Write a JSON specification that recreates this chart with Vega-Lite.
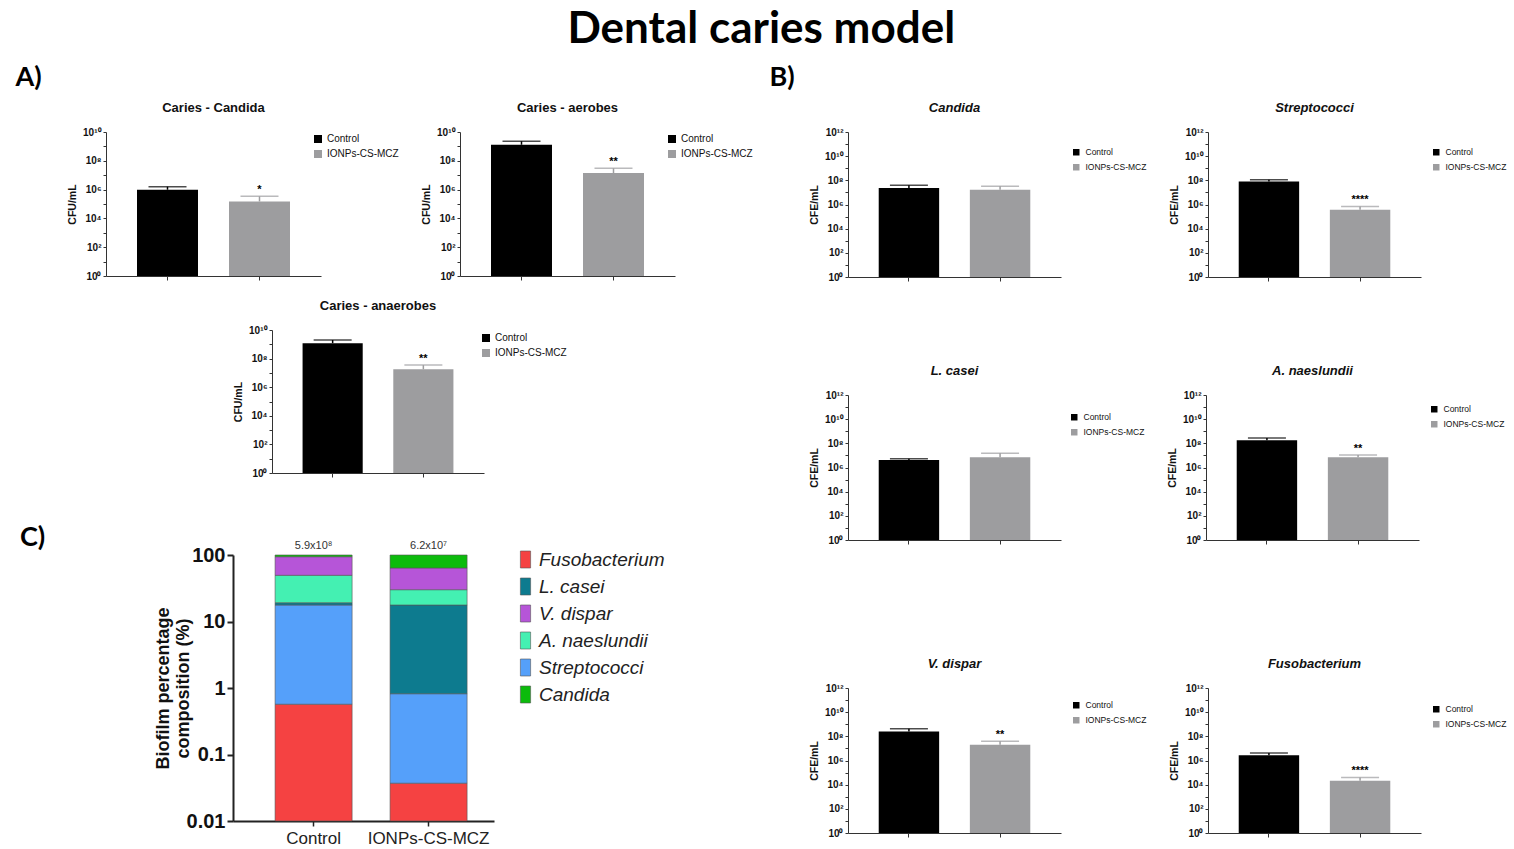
{
  "$schema": "https://vega.github.io/schema/vega-lite/v6.json",
  "background": "white",
  "padding": {"left": 15, "top": 8, "right": 2, "bottom": 0},
  "title": {"text": "Dental caries model", "font": "Lato", "fontSize": 44, "fontWeight": "bold", "color": "#000", "anchor": "middle", "offset": 12},
  "datasets": {
    "bars": [
      {"panel": "A1", "group": "Control", "mean": 980000, "upper": 1600000, "sig": ""},
      {"panel": "A1", "group": "IONPs-CS-MCZ", "mean": 150000, "upper": 340000, "sig": "*"},
      {"panel": "A2", "group": "Control", "mean": 1300000000, "upper": 2300000000, "sig": ""},
      {"panel": "A2", "group": "IONPs-CS-MCZ", "mean": 14000000, "upper": 30000000, "sig": "**"},
      {"panel": "A3", "group": "Control", "mean": 1200000000, "upper": 2000000000, "sig": ""},
      {"panel": "A3", "group": "IONPs-CS-MCZ", "mean": 18000000, "upper": 35000000, "sig": "**"},
      {"panel": "B1", "group": "Control", "mean": 23000000, "upper": 40000000, "sig": ""},
      {"panel": "B1", "group": "IONPs-CS-MCZ", "mean": 17000000, "upper": 32000000, "sig": ""},
      {"panel": "B2", "group": "Control", "mean": 81000000, "upper": 110000000, "sig": ""},
      {"panel": "B2", "group": "IONPs-CS-MCZ", "mean": 360000, "upper": 690000, "sig": "****"},
      {"panel": "B3", "group": "Control", "mean": 4200000, "upper": 5400000, "sig": ""},
      {"panel": "B3", "group": "IONPs-CS-MCZ", "mean": 7000000, "upper": 15000000, "sig": ""},
      {"panel": "B4", "group": "Control", "mean": 180000000, "upper": 270000000, "sig": ""},
      {"panel": "B4", "group": "IONPs-CS-MCZ", "mean": 7200000, "upper": 11000000, "sig": "**"},
      {"panel": "B5", "group": "Control", "mean": 250000000, "upper": 430000000, "sig": ""},
      {"panel": "B5", "group": "IONPs-CS-MCZ", "mean": 20000000, "upper": 40000000, "sig": "**"},
      {"panel": "B6", "group": "Control", "mean": 2700000, "upper": 4200000, "sig": ""},
      {"panel": "B6", "group": "IONPs-CS-MCZ", "mean": 21000, "upper": 40000, "sig": "****"}
    ],
    "comp": [
      {"group": "Control", "species": "Fusobacterium", "lower": 0.01, "upper": 0.57},
      {"group": "Control", "species": "Streptococci", "lower": 0.57, "upper": 17.7},
      {"group": "Control", "species": "L. casei", "lower": 17.7, "upper": 19.2},
      {"group": "Control", "species": "A. naeslundii", "lower": 19.2, "upper": 49.5},
      {"group": "Control", "species": "V. dispar", "lower": 49.5, "upper": 94.3},
      {"group": "Control", "species": "Candida", "lower": 94.3, "upper": 100},
      {"group": "IONPs-CS-MCZ", "species": "Fusobacterium", "lower": 0.01, "upper": 0.037},
      {"group": "IONPs-CS-MCZ", "species": "Streptococci", "lower": 0.037, "upper": 0.82},
      {"group": "IONPs-CS-MCZ", "species": "L. casei", "lower": 0.82, "upper": 17.7},
      {"group": "IONPs-CS-MCZ", "species": "A. naeslundii", "lower": 17.7, "upper": 30.1},
      {"group": "IONPs-CS-MCZ", "species": "V. dispar", "lower": 30.1, "upper": 63.8},
      {"group": "IONPs-CS-MCZ", "species": "Candida", "lower": 63.8, "upper": 100}
    ],
    "totals": [
      {"group": "Control", "top": 100, "label": "5.9x10⁸"},
      {"group": "IONPs-CS-MCZ", "top": 100, "label": "6.2x10⁷"}
    ]
  },
  "hconcat": [
    {
      "vconcat": [
        {
          "vconcat": [
            {
              "title": {"text": "A)", "anchor": "start", "frame": "bounds", "dx": -52, "font": "Lato", "fontSize": 27, "fontWeight": "bold", "color": "#000", "offset": 10},
              "hconcat": [
                {
                  "title": {"text": "Caries - Candida"},
                  "width": 215, "height": 144,
                  "data": {"name": "bars"},
                  "transform": [{"filter": "datum.panel == 'A1'"}],
                  "encoding": {"x": {"field": "group", "type": "nominal", "sort": ["Control", "IONPs-CS-MCZ"], "scale": {"paddingInner": 0.337, "paddingOuter": 0.337}, "axis": {"title": null, "labels": false, "tickSize": 4, "domainColor": "#333", "tickColor": "#333", "grid": false}}},
                  "layer": [
                    {"mark": {"type": "bar", "stack": null}, "encoding": {
                      "y": {"field": "mean", "type": "quantitative", "scale": {"type": "log", "domain": [1, 10000000000]}, "axis": {"title": "CFU/mL", "titleFontSize": 10.5, "titleFontWeight": "bold", "titleColor": "#111", "titlePadding": 5, "labelFontSize": 10, "labelFontWeight": "bold", "labelColor": "#111", "labelPadding": 2, "values": [1, 10, 100, 1000, 10000, 100000, 1000000, 10000000, 100000000, 1000000000, 10000000000], "labelExpr": "datum.value == 1 ? '10⁰' : datum.value == 100 ? '10²' : datum.value == 10000 ? '10⁴' : datum.value == 1000000 ? '10⁶' : datum.value == 100000000 ? '10⁸' : datum.value == 10000000000 ? '10¹⁰' : ''", "tickSize": 3, "grid": false, "domainColor": "#333", "tickColor": "#333"}},
                      "y2": {"datum": 1},
                      "color": {"field": "group", "type": "nominal", "scale": {"domain": ["Control", "IONPs-CS-MCZ"], "range": ["#000000", "#9d9d9f"]}, "legend": {"orient": "none", "legendX": 207, "legendY": 2, "title": null, "symbolType": "square", "symbolSize": 64, "labelFontSize": 10, "labelColor": "#111", "rowPadding": 5, "labelOffset": 4, "symbolStrokeWidth": 0}}}},
                    {"mark": {"type": "rule", "strokeWidth": 1.5}, "encoding": {"y": {"field": "mean", "type": "quantitative", "scale": {"type": "log", "domain": [1, 10000000000]}, "axis": {"title": "CFU/mL", "titleFontSize": 10.5, "titleFontWeight": "bold", "titleColor": "#111", "titlePadding": 5, "labelFontSize": 10, "labelFontWeight": "bold", "labelColor": "#111", "labelPadding": 2, "values": [1, 10, 100, 1000, 10000, 100000, 1000000, 10000000, 100000000, 1000000000, 10000000000], "labelExpr": "datum.value == 1 ? '10⁰' : datum.value == 100 ? '10²' : datum.value == 10000 ? '10⁴' : datum.value == 1000000 ? '10⁶' : datum.value == 100000000 ? '10⁸' : datum.value == 10000000000 ? '10¹⁰' : ''", "tickSize": 3, "grid": false, "domainColor": "#333", "tickColor": "#333"}}, "y2": {"field": "upper"}, "color": {"field": "group", "type": "nominal", "legend": null}}},
                    {"mark": {"type": "tick", "thickness": 1.5, "size": 38}, "encoding": {"y": {"field": "upper", "type": "quantitative", "scale": {"type": "log", "domain": [1, 10000000000]}, "axis": {"title": "CFU/mL", "titleFontSize": 10.5, "titleFontWeight": "bold", "titleColor": "#111", "titlePadding": 5, "labelFontSize": 10, "labelFontWeight": "bold", "labelColor": "#111", "labelPadding": 2, "values": [1, 10, 100, 1000, 10000, 100000, 1000000, 10000000, 100000000, 1000000000, 10000000000], "labelExpr": "datum.value == 1 ? '10⁰' : datum.value == 100 ? '10²' : datum.value == 10000 ? '10⁴' : datum.value == 1000000 ? '10⁶' : datum.value == 100000000 ? '10⁸' : datum.value == 10000000000 ? '10¹⁰' : ''", "tickSize": 3, "grid": false, "domainColor": "#333", "tickColor": "#333"}}, "color": {"field": "group", "type": "nominal", "legend": null}}},
                    {"mark": {"type": "text", "baseline": "bottom", "dy": -1, "fontSize": 11, "fontWeight": "bold"}, "encoding": {"y": {"field": "upper", "type": "quantitative", "scale": {"type": "log", "domain": [1, 10000000000]}, "axis": {"title": "CFU/mL", "titleFontSize": 10.5, "titleFontWeight": "bold", "titleColor": "#111", "titlePadding": 5, "labelFontSize": 10, "labelFontWeight": "bold", "labelColor": "#111", "labelPadding": 2, "values": [1, 10, 100, 1000, 10000, 100000, 1000000, 10000000, 100000000, 1000000000, 10000000000], "labelExpr": "datum.value == 1 ? '10⁰' : datum.value == 100 ? '10²' : datum.value == 10000 ? '10⁴' : datum.value == 1000000 ? '10⁶' : datum.value == 100000000 ? '10⁸' : datum.value == 10000000000 ? '10¹⁰' : ''", "tickSize": 3, "grid": false, "domainColor": "#333", "tickColor": "#333"}}, "text": {"field": "sig"}}}
                  ]
                },
                {
                  "title": {"text": "Caries - aerobes"},
                  "width": 215, "height": 144,
                  "data": {"name": "bars"},
                  "transform": [{"filter": "datum.panel == 'A2'"}],
                  "encoding": {"x": {"field": "group", "type": "nominal", "sort": ["Control", "IONPs-CS-MCZ"], "scale": {"paddingInner": 0.337, "paddingOuter": 0.337}, "axis": {"title": null, "labels": false, "tickSize": 4, "domainColor": "#333", "tickColor": "#333", "grid": false}}},
                  "layer": [
                    {"mark": {"type": "bar", "stack": null}, "encoding": {
                      "y": {"field": "mean", "type": "quantitative", "scale": {"type": "log", "domain": [1, 10000000000]}, "axis": {"title": "CFU/mL", "titleFontSize": 10.5, "titleFontWeight": "bold", "titleColor": "#111", "titlePadding": 5, "labelFontSize": 10, "labelFontWeight": "bold", "labelColor": "#111", "labelPadding": 2, "values": [1, 10, 100, 1000, 10000, 100000, 1000000, 10000000, 100000000, 1000000000, 10000000000], "labelExpr": "datum.value == 1 ? '10⁰' : datum.value == 100 ? '10²' : datum.value == 10000 ? '10⁴' : datum.value == 1000000 ? '10⁶' : datum.value == 100000000 ? '10⁸' : datum.value == 10000000000 ? '10¹⁰' : ''", "tickSize": 3, "grid": false, "domainColor": "#333", "tickColor": "#333"}},
                      "y2": {"datum": 1},
                      "color": {"field": "group", "type": "nominal", "scale": {"domain": ["Control", "IONPs-CS-MCZ"], "range": ["#000000", "#9d9d9f"]}, "legend": {"orient": "none", "legendX": 207, "legendY": 2, "title": null, "symbolType": "square", "symbolSize": 64, "labelFontSize": 10, "labelColor": "#111", "rowPadding": 5, "labelOffset": 4, "symbolStrokeWidth": 0}}}},
                    {"mark": {"type": "rule", "strokeWidth": 1.5}, "encoding": {"y": {"field": "mean", "type": "quantitative", "scale": {"type": "log", "domain": [1, 10000000000]}, "axis": {"title": "CFU/mL", "titleFontSize": 10.5, "titleFontWeight": "bold", "titleColor": "#111", "titlePadding": 5, "labelFontSize": 10, "labelFontWeight": "bold", "labelColor": "#111", "labelPadding": 2, "values": [1, 10, 100, 1000, 10000, 100000, 1000000, 10000000, 100000000, 1000000000, 10000000000], "labelExpr": "datum.value == 1 ? '10⁰' : datum.value == 100 ? '10²' : datum.value == 10000 ? '10⁴' : datum.value == 1000000 ? '10⁶' : datum.value == 100000000 ? '10⁸' : datum.value == 10000000000 ? '10¹⁰' : ''", "tickSize": 3, "grid": false, "domainColor": "#333", "tickColor": "#333"}}, "y2": {"field": "upper"}, "color": {"field": "group", "type": "nominal", "legend": null}}},
                    {"mark": {"type": "tick", "thickness": 1.5, "size": 38}, "encoding": {"y": {"field": "upper", "type": "quantitative", "scale": {"type": "log", "domain": [1, 10000000000]}, "axis": {"title": "CFU/mL", "titleFontSize": 10.5, "titleFontWeight": "bold", "titleColor": "#111", "titlePadding": 5, "labelFontSize": 10, "labelFontWeight": "bold", "labelColor": "#111", "labelPadding": 2, "values": [1, 10, 100, 1000, 10000, 100000, 1000000, 10000000, 100000000, 1000000000, 10000000000], "labelExpr": "datum.value == 1 ? '10⁰' : datum.value == 100 ? '10²' : datum.value == 10000 ? '10⁴' : datum.value == 1000000 ? '10⁶' : datum.value == 100000000 ? '10⁸' : datum.value == 10000000000 ? '10¹⁰' : ''", "tickSize": 3, "grid": false, "domainColor": "#333", "tickColor": "#333"}}, "color": {"field": "group", "type": "nominal", "legend": null}}},
                    {"mark": {"type": "text", "baseline": "bottom", "dy": -1, "fontSize": 11, "fontWeight": "bold"}, "encoding": {"y": {"field": "upper", "type": "quantitative", "scale": {"type": "log", "domain": [1, 10000000000]}, "axis": {"title": "CFU/mL", "titleFontSize": 10.5, "titleFontWeight": "bold", "titleColor": "#111", "titlePadding": 5, "labelFontSize": 10, "labelFontWeight": "bold", "labelColor": "#111", "labelPadding": 2, "values": [1, 10, 100, 1000, 10000, 100000, 1000000, 10000000, 100000000, 1000000000, 10000000000], "labelExpr": "datum.value == 1 ? '10⁰' : datum.value == 100 ? '10²' : datum.value == 10000 ? '10⁴' : datum.value == 1000000 ? '10⁶' : datum.value == 100000000 ? '10⁸' : datum.value == 10000000000 ? '10¹⁰' : ''", "tickSize": 3, "grid": false, "domainColor": "#333", "tickColor": "#333"}}, "text": {"field": "sig"}}}
                  ]
                }
              ],
              "spacing": 22,
              "resolve": {"scale": {"color": "independent"}, "legend": {"color": "independent"}}
            },
            {
              "hconcat": [
                {"width": 127, "height": 10, "data": {"values": []}, "mark": "point"},
                {
                  "title": {"text": "Caries - anaerobes"},
                  "width": 212, "height": 143,
                  "data": {"name": "bars"},
                  "transform": [{"filter": "datum.panel == 'A3'"}],
                  "encoding": {"x": {"field": "group", "type": "nominal", "sort": ["Control", "IONPs-CS-MCZ"], "scale": {"paddingInner": 0.337, "paddingOuter": 0.337}, "axis": {"title": null, "labels": false, "tickSize": 4, "domainColor": "#333", "tickColor": "#333", "grid": false}}},
                  "layer": [
                    {"mark": {"type": "bar", "stack": null}, "encoding": {
                      "y": {"field": "mean", "type": "quantitative", "scale": {"type": "log", "domain": [1, 10000000000]}, "axis": {"title": "CFU/mL", "titleFontSize": 10.5, "titleFontWeight": "bold", "titleColor": "#111", "titlePadding": 5, "labelFontSize": 10, "labelFontWeight": "bold", "labelColor": "#111", "labelPadding": 2, "values": [1, 10, 100, 1000, 10000, 100000, 1000000, 10000000, 100000000, 1000000000, 10000000000], "labelExpr": "datum.value == 1 ? '10⁰' : datum.value == 100 ? '10²' : datum.value == 10000 ? '10⁴' : datum.value == 1000000 ? '10⁶' : datum.value == 100000000 ? '10⁸' : datum.value == 10000000000 ? '10¹⁰' : ''", "tickSize": 3, "grid": false, "domainColor": "#333", "tickColor": "#333"}},
                      "y2": {"datum": 1},
                      "color": {"field": "group", "type": "nominal", "scale": {"domain": ["Control", "IONPs-CS-MCZ"], "range": ["#000000", "#9d9d9f"]}, "legend": {"orient": "none", "legendX": 209, "legendY": 3, "title": null, "symbolType": "square", "symbolSize": 64, "labelFontSize": 10, "labelColor": "#111", "rowPadding": 5, "labelOffset": 4, "symbolStrokeWidth": 0}}}},
                    {"mark": {"type": "rule", "strokeWidth": 1.5}, "encoding": {"y": {"field": "mean", "type": "quantitative", "scale": {"type": "log", "domain": [1, 10000000000]}, "axis": {"title": "CFU/mL", "titleFontSize": 10.5, "titleFontWeight": "bold", "titleColor": "#111", "titlePadding": 5, "labelFontSize": 10, "labelFontWeight": "bold", "labelColor": "#111", "labelPadding": 2, "values": [1, 10, 100, 1000, 10000, 100000, 1000000, 10000000, 100000000, 1000000000, 10000000000], "labelExpr": "datum.value == 1 ? '10⁰' : datum.value == 100 ? '10²' : datum.value == 10000 ? '10⁴' : datum.value == 1000000 ? '10⁶' : datum.value == 100000000 ? '10⁸' : datum.value == 10000000000 ? '10¹⁰' : ''", "tickSize": 3, "grid": false, "domainColor": "#333", "tickColor": "#333"}}, "y2": {"field": "upper"}, "color": {"field": "group", "type": "nominal", "legend": null}}},
                    {"mark": {"type": "tick", "thickness": 1.5, "size": 38}, "encoding": {"y": {"field": "upper", "type": "quantitative", "scale": {"type": "log", "domain": [1, 10000000000]}, "axis": {"title": "CFU/mL", "titleFontSize": 10.5, "titleFontWeight": "bold", "titleColor": "#111", "titlePadding": 5, "labelFontSize": 10, "labelFontWeight": "bold", "labelColor": "#111", "labelPadding": 2, "values": [1, 10, 100, 1000, 10000, 100000, 1000000, 10000000, 100000000, 1000000000, 10000000000], "labelExpr": "datum.value == 1 ? '10⁰' : datum.value == 100 ? '10²' : datum.value == 10000 ? '10⁴' : datum.value == 1000000 ? '10⁶' : datum.value == 100000000 ? '10⁸' : datum.value == 10000000000 ? '10¹⁰' : ''", "tickSize": 3, "grid": false, "domainColor": "#333", "tickColor": "#333"}}, "color": {"field": "group", "type": "nominal", "legend": null}}},
                    {"mark": {"type": "text", "baseline": "bottom", "dy": -1, "fontSize": 11, "fontWeight": "bold"}, "encoding": {"y": {"field": "upper", "type": "quantitative", "scale": {"type": "log", "domain": [1, 10000000000]}, "axis": {"title": "CFU/mL", "titleFontSize": 10.5, "titleFontWeight": "bold", "titleColor": "#111", "titlePadding": 5, "labelFontSize": 10, "labelFontWeight": "bold", "labelColor": "#111", "labelPadding": 2, "values": [1, 10, 100, 1000, 10000, 100000, 1000000, 10000000, 100000000, 1000000000, 10000000000], "labelExpr": "datum.value == 1 ? '10⁰' : datum.value == 100 ? '10²' : datum.value == 10000 ? '10⁴' : datum.value == 1000000 ? '10⁶' : datum.value == 100000000 ? '10⁸' : datum.value == 10000000000 ? '10¹⁰' : ''", "tickSize": 3, "grid": false, "domainColor": "#333", "tickColor": "#333"}}, "text": {"field": "sig"}}}
                  ]
                }
              ],
              "spacing": 0,
              "resolve": {"scale": {"color": "independent"}, "legend": {"color": "independent"}}
            }
          ],
          "spacing": 19,
          "resolve": {"scale": {"color": "independent"}, "legend": {"color": "independent"}}
        },
        {
          "title": {"text": "C)", "anchor": "start", "frame": "bounds", "dx": -86, "font": "Lato", "fontSize": 27, "fontWeight": "bold", "color": "#000", "offset": -12},
          "hconcat": [
            {"width": 48, "height": 10, "data": {"values": []}, "mark": "point"},
            {
              "width": 261, "height": 266,
              "encoding": {"x": {"field": "group", "type": "nominal", "sort": ["Control", "IONPs-CS-MCZ"], "scale": {"paddingInner": 0.33, "paddingOuter": 0.3, "align": 0.61}, "axis": {"title": null, "labelAngle": 0, "labelFontSize": 17, "labelColor": "#222", "labelPadding": 4, "tickSize": 5, "tickWidth": 1.5, "domainWidth": 2, "domainColor": "#222", "tickColor": "#222", "grid": false}}},
              "layer": [
                {"data": {"name": "comp"}, "mark": {"type": "bar", "stroke": "#555", "strokeWidth": 0.6}, "encoding": {
                  "y": {"field": "lower", "type": "quantitative", "scale": {"type": "log", "domain": [0.01, 100]}, "axis": {"title": ["Biofilm percentage", "composition (%)"], "titleFontSize": 18, "titleFontWeight": "bold", "titleColor": "#111", "titlePadding": -6, "values": [0.01, 0.1, 1, 10, 100], "labelExpr": "datum.value == 0.01 ? '0.01' : datum.value == 0.1 ? '0.1' : datum.value == 1 ? '1' : datum.value == 10 ? '10' : '100'", "labelFontSize": 20, "labelFontWeight": "bold", "labelColor": "#111", "labelPadding": 2, "tickSize": 6, "tickWidth": 2, "domainWidth": 2, "domainColor": "#222", "tickColor": "#222", "grid": false}},
                  "y2": {"field": "upper"},
                  "color": {"field": "species", "type": "nominal", "scale": {"domain": ["Fusobacterium", "L. casei", "V. dispar", "A. naeslundii", "Streptococci", "Candida"], "range": ["#f54242", "#0d7b8f", "#b655d8", "#44f0b2", "#55a0fa", "#0cbb0c"]}, "legend": {"orient": "none", "legendX": 283, "legendY": -5, "title": null, "symbolType": "M-0.6,-1H0.6V1H-0.6Z", "symbolSize": 289, "symbolStrokeColor": "#555", "symbolStrokeWidth": 0.6, "labelFontSize": 19, "labelFontStyle": "italic", "labelColor": "#222", "rowPadding": 6, "labelOffset": 4}}
                }},
                {"data": {"name": "totals"}, "mark": {"type": "text", "fontSize": 11, "color": "#333", "dy": -9}, "encoding": {
                  "y": {"field": "top", "type": "quantitative", "scale": {"type": "log", "domain": [0.01, 100]}, "axis": {"title": ["Biofilm percentage", "composition (%)"], "titleFontSize": 18, "titleFontWeight": "bold", "titleColor": "#111", "titlePadding": -6, "values": [0.01, 0.1, 1, 10, 100], "labelExpr": "datum.value == 0.01 ? '0.01' : datum.value == 0.1 ? '0.1' : datum.value == 1 ? '1' : datum.value == 10 ? '10' : '100'", "labelFontSize": 20, "labelFontWeight": "bold", "labelColor": "#111", "labelPadding": 2, "tickSize": 6, "tickWidth": 2, "domainWidth": 2, "domainColor": "#222", "tickColor": "#222", "grid": false}},
                  "text": {"field": "label"}
                }}
              ]
            }
          ],
          "spacing": 0,
          "resolve": {"scale": {"color": "independent"}, "legend": {"color": "independent"}}
        }
      ],
      "spacing": 46,
      "resolve": {"scale": {"color": "independent"}, "legend": {"color": "independent"}}
    },
    {
      "title": {"text": "B)", "anchor": "start", "frame": "bounds", "dx": -40, "font": "Lato", "fontSize": 27, "fontWeight": "bold", "color": "#000", "offset": 10},
      "vconcat": [
        {
          "hconcat": [
            {
              "title": {"text": "Candida", "fontStyle": "italic"},
              "width": 213, "height": 145,
              "data": {"name": "bars"},
              "transform": [{"filter": "datum.panel == 'B1'"}],
              "encoding": {"x": {"field": "group", "type": "nominal", "sort": ["Control", "IONPs-CS-MCZ"], "scale": {"paddingInner": 0.337, "paddingOuter": 0.337}, "axis": {"title": null, "labels": false, "tickSize": 4, "domainColor": "#333", "tickColor": "#333", "grid": false}}},
              "layer": [
                {"mark": {"type": "bar", "stack": null}, "encoding": {
                  "y": {"field": "mean", "type": "quantitative", "scale": {"type": "log", "domain": [1, 1000000000000]}, "axis": {"title": "CFE/mL", "titleFontSize": 10.5, "titleFontWeight": "bold", "titleColor": "#111", "titlePadding": 5, "labelFontSize": 10, "labelFontWeight": "bold", "labelColor": "#111", "labelPadding": 2, "values": [1, 10, 100, 1000, 10000, 100000, 1000000, 10000000, 100000000, 1000000000, 10000000000, 100000000000, 1000000000000], "labelExpr": "datum.value == 1 ? '10⁰' : datum.value == 100 ? '10²' : datum.value == 10000 ? '10⁴' : datum.value == 1000000 ? '10⁶' : datum.value == 100000000 ? '10⁸' : datum.value == 10000000000 ? '10¹⁰' : datum.value == 1000000000000 ? '10¹²' : ''", "tickSize": 3, "grid": false, "domainColor": "#333", "tickColor": "#333"}},
                  "y2": {"datum": 1},
                  "color": {"field": "group", "type": "nominal", "scale": {"domain": ["Control", "IONPs-CS-MCZ"], "range": ["#000000", "#9d9d9f"]}, "legend": {"orient": "none", "legendX": 224, "legendY": 16, "title": null, "symbolType": "square", "symbolSize": 42, "labelFontSize": 8.5, "labelColor": "#111", "rowPadding": 6, "labelOffset": 5, "symbolStrokeWidth": 0}}}},
                {"mark": {"type": "rule", "strokeWidth": 1.5}, "encoding": {"y": {"field": "mean", "type": "quantitative", "scale": {"type": "log", "domain": [1, 1000000000000]}, "axis": {"title": "CFE/mL", "titleFontSize": 10.5, "titleFontWeight": "bold", "titleColor": "#111", "titlePadding": 5, "labelFontSize": 10, "labelFontWeight": "bold", "labelColor": "#111", "labelPadding": 2, "values": [1, 10, 100, 1000, 10000, 100000, 1000000, 10000000, 100000000, 1000000000, 10000000000, 100000000000, 1000000000000], "labelExpr": "datum.value == 1 ? '10⁰' : datum.value == 100 ? '10²' : datum.value == 10000 ? '10⁴' : datum.value == 1000000 ? '10⁶' : datum.value == 100000000 ? '10⁸' : datum.value == 10000000000 ? '10¹⁰' : datum.value == 1000000000000 ? '10¹²' : ''", "tickSize": 3, "grid": false, "domainColor": "#333", "tickColor": "#333"}}, "y2": {"field": "upper"}, "color": {"field": "group", "type": "nominal", "legend": null}}},
                {"mark": {"type": "tick", "thickness": 1.5, "size": 38}, "encoding": {"y": {"field": "upper", "type": "quantitative", "scale": {"type": "log", "domain": [1, 1000000000000]}, "axis": {"title": "CFE/mL", "titleFontSize": 10.5, "titleFontWeight": "bold", "titleColor": "#111", "titlePadding": 5, "labelFontSize": 10, "labelFontWeight": "bold", "labelColor": "#111", "labelPadding": 2, "values": [1, 10, 100, 1000, 10000, 100000, 1000000, 10000000, 100000000, 1000000000, 10000000000, 100000000000, 1000000000000], "labelExpr": "datum.value == 1 ? '10⁰' : datum.value == 100 ? '10²' : datum.value == 10000 ? '10⁴' : datum.value == 1000000 ? '10⁶' : datum.value == 100000000 ? '10⁸' : datum.value == 10000000000 ? '10¹⁰' : datum.value == 1000000000000 ? '10¹²' : ''", "tickSize": 3, "grid": false, "domainColor": "#333", "tickColor": "#333"}}, "color": {"field": "group", "type": "nominal", "legend": null}}},
                {"mark": {"type": "text", "baseline": "bottom", "dy": -1, "fontSize": 11, "fontWeight": "bold"}, "encoding": {"y": {"field": "upper", "type": "quantitative", "scale": {"type": "log", "domain": [1, 1000000000000]}, "axis": {"title": "CFE/mL", "titleFontSize": 10.5, "titleFontWeight": "bold", "titleColor": "#111", "titlePadding": 5, "labelFontSize": 10, "labelFontWeight": "bold", "labelColor": "#111", "labelPadding": 2, "values": [1, 10, 100, 1000, 10000, 100000, 1000000, 10000000, 100000000, 1000000000, 10000000000, 100000000000, 1000000000000], "labelExpr": "datum.value == 1 ? '10⁰' : datum.value == 100 ? '10²' : datum.value == 10000 ? '10⁴' : datum.value == 1000000 ? '10⁶' : datum.value == 100000000 ? '10⁸' : datum.value == 10000000000 ? '10¹⁰' : datum.value == 1000000000000 ? '10¹²' : ''", "tickSize": 3, "grid": false, "domainColor": "#333", "tickColor": "#333"}}, "text": {"field": "sig"}}}
              ]
            },
            {
              "title": {"text": "Streptococci", "fontStyle": "italic"},
              "width": 213, "height": 145,
              "data": {"name": "bars"},
              "transform": [{"filter": "datum.panel == 'B2'"}],
              "encoding": {"x": {"field": "group", "type": "nominal", "sort": ["Control", "IONPs-CS-MCZ"], "scale": {"paddingInner": 0.337, "paddingOuter": 0.337}, "axis": {"title": null, "labels": false, "tickSize": 4, "domainColor": "#333", "tickColor": "#333", "grid": false}}},
              "layer": [
                {"mark": {"type": "bar", "stack": null}, "encoding": {
                  "y": {"field": "mean", "type": "quantitative", "scale": {"type": "log", "domain": [1, 1000000000000]}, "axis": {"title": "CFE/mL", "titleFontSize": 10.5, "titleFontWeight": "bold", "titleColor": "#111", "titlePadding": 5, "labelFontSize": 10, "labelFontWeight": "bold", "labelColor": "#111", "labelPadding": 2, "values": [1, 10, 100, 1000, 10000, 100000, 1000000, 10000000, 100000000, 1000000000, 10000000000, 100000000000, 1000000000000], "labelExpr": "datum.value == 1 ? '10⁰' : datum.value == 100 ? '10²' : datum.value == 10000 ? '10⁴' : datum.value == 1000000 ? '10⁶' : datum.value == 100000000 ? '10⁸' : datum.value == 10000000000 ? '10¹⁰' : datum.value == 1000000000000 ? '10¹²' : ''", "tickSize": 3, "grid": false, "domainColor": "#333", "tickColor": "#333"}},
                  "y2": {"datum": 1},
                  "color": {"field": "group", "type": "nominal", "scale": {"domain": ["Control", "IONPs-CS-MCZ"], "range": ["#000000", "#9d9d9f"]}, "legend": {"orient": "none", "legendX": 224, "legendY": 16, "title": null, "symbolType": "square", "symbolSize": 42, "labelFontSize": 8.5, "labelColor": "#111", "rowPadding": 6, "labelOffset": 5, "symbolStrokeWidth": 0}}}},
                {"mark": {"type": "rule", "strokeWidth": 1.5}, "encoding": {"y": {"field": "mean", "type": "quantitative", "scale": {"type": "log", "domain": [1, 1000000000000]}, "axis": {"title": "CFE/mL", "titleFontSize": 10.5, "titleFontWeight": "bold", "titleColor": "#111", "titlePadding": 5, "labelFontSize": 10, "labelFontWeight": "bold", "labelColor": "#111", "labelPadding": 2, "values": [1, 10, 100, 1000, 10000, 100000, 1000000, 10000000, 100000000, 1000000000, 10000000000, 100000000000, 1000000000000], "labelExpr": "datum.value == 1 ? '10⁰' : datum.value == 100 ? '10²' : datum.value == 10000 ? '10⁴' : datum.value == 1000000 ? '10⁶' : datum.value == 100000000 ? '10⁸' : datum.value == 10000000000 ? '10¹⁰' : datum.value == 1000000000000 ? '10¹²' : ''", "tickSize": 3, "grid": false, "domainColor": "#333", "tickColor": "#333"}}, "y2": {"field": "upper"}, "color": {"field": "group", "type": "nominal", "legend": null}}},
                {"mark": {"type": "tick", "thickness": 1.5, "size": 38}, "encoding": {"y": {"field": "upper", "type": "quantitative", "scale": {"type": "log", "domain": [1, 1000000000000]}, "axis": {"title": "CFE/mL", "titleFontSize": 10.5, "titleFontWeight": "bold", "titleColor": "#111", "titlePadding": 5, "labelFontSize": 10, "labelFontWeight": "bold", "labelColor": "#111", "labelPadding": 2, "values": [1, 10, 100, 1000, 10000, 100000, 1000000, 10000000, 100000000, 1000000000, 10000000000, 100000000000, 1000000000000], "labelExpr": "datum.value == 1 ? '10⁰' : datum.value == 100 ? '10²' : datum.value == 10000 ? '10⁴' : datum.value == 1000000 ? '10⁶' : datum.value == 100000000 ? '10⁸' : datum.value == 10000000000 ? '10¹⁰' : datum.value == 1000000000000 ? '10¹²' : ''", "tickSize": 3, "grid": false, "domainColor": "#333", "tickColor": "#333"}}, "color": {"field": "group", "type": "nominal", "legend": null}}},
                {"mark": {"type": "text", "baseline": "bottom", "dy": -1, "fontSize": 11, "fontWeight": "bold"}, "encoding": {"y": {"field": "upper", "type": "quantitative", "scale": {"type": "log", "domain": [1, 1000000000000]}, "axis": {"title": "CFE/mL", "titleFontSize": 10.5, "titleFontWeight": "bold", "titleColor": "#111", "titlePadding": 5, "labelFontSize": 10, "labelFontWeight": "bold", "labelColor": "#111", "labelPadding": 2, "values": [1, 10, 100, 1000, 10000, 100000, 1000000, 10000000, 100000000, 1000000000, 10000000000, 100000000000, 1000000000000], "labelExpr": "datum.value == 1 ? '10⁰' : datum.value == 100 ? '10²' : datum.value == 10000 ? '10⁴' : datum.value == 1000000 ? '10⁶' : datum.value == 100000000 ? '10⁸' : datum.value == 10000000000 ? '10¹⁰' : datum.value == 1000000000000 ? '10¹²' : ''", "tickSize": 3, "grid": false, "domainColor": "#333", "tickColor": "#333"}}, "text": {"field": "sig"}}}
              ]
            }
          ],
          "spacing": 22,
          "resolve": {"scale": {"color": "independent"}, "legend": {"color": "independent"}}
        },
        {
          "vconcat": [
            {
              "hconcat": [
                {
                  "title": {"text": "L. casei", "fontStyle": "italic"},
                  "width": 213, "height": 145,
                  "data": {"name": "bars"},
                  "transform": [{"filter": "datum.panel == 'B3'"}],
                  "encoding": {"x": {"field": "group", "type": "nominal", "sort": ["Control", "IONPs-CS-MCZ"], "scale": {"paddingInner": 0.337, "paddingOuter": 0.337}, "axis": {"title": null, "labels": false, "tickSize": 4, "domainColor": "#333", "tickColor": "#333", "grid": false}}},
                  "layer": [
                    {"mark": {"type": "bar", "stack": null}, "encoding": {
                      "y": {"field": "mean", "type": "quantitative", "scale": {"type": "log", "domain": [1, 1000000000000]}, "axis": {"title": "CFE/mL", "titleFontSize": 10.5, "titleFontWeight": "bold", "titleColor": "#111", "titlePadding": 5, "labelFontSize": 10, "labelFontWeight": "bold", "labelColor": "#111", "labelPadding": 2, "values": [1, 10, 100, 1000, 10000, 100000, 1000000, 10000000, 100000000, 1000000000, 10000000000, 100000000000, 1000000000000], "labelExpr": "datum.value == 1 ? '10⁰' : datum.value == 100 ? '10²' : datum.value == 10000 ? '10⁴' : datum.value == 1000000 ? '10⁶' : datum.value == 100000000 ? '10⁸' : datum.value == 10000000000 ? '10¹⁰' : datum.value == 1000000000000 ? '10¹²' : ''", "tickSize": 3, "grid": false, "domainColor": "#333", "tickColor": "#333"}},
                      "y2": {"datum": 1},
                      "color": {"field": "group", "type": "nominal", "scale": {"domain": ["Control", "IONPs-CS-MCZ"], "range": ["#000000", "#9d9d9f"]}, "legend": {"orient": "none", "legendX": 222, "legendY": 18, "title": null, "symbolType": "square", "symbolSize": 42, "labelFontSize": 8.5, "labelColor": "#111", "rowPadding": 6, "labelOffset": 5, "symbolStrokeWidth": 0}}}},
                    {"mark": {"type": "rule", "strokeWidth": 1.5}, "encoding": {"y": {"field": "mean", "type": "quantitative", "scale": {"type": "log", "domain": [1, 1000000000000]}, "axis": {"title": "CFE/mL", "titleFontSize": 10.5, "titleFontWeight": "bold", "titleColor": "#111", "titlePadding": 5, "labelFontSize": 10, "labelFontWeight": "bold", "labelColor": "#111", "labelPadding": 2, "values": [1, 10, 100, 1000, 10000, 100000, 1000000, 10000000, 100000000, 1000000000, 10000000000, 100000000000, 1000000000000], "labelExpr": "datum.value == 1 ? '10⁰' : datum.value == 100 ? '10²' : datum.value == 10000 ? '10⁴' : datum.value == 1000000 ? '10⁶' : datum.value == 100000000 ? '10⁸' : datum.value == 10000000000 ? '10¹⁰' : datum.value == 1000000000000 ? '10¹²' : ''", "tickSize": 3, "grid": false, "domainColor": "#333", "tickColor": "#333"}}, "y2": {"field": "upper"}, "color": {"field": "group", "type": "nominal", "legend": null}}},
                    {"mark": {"type": "tick", "thickness": 1.5, "size": 38}, "encoding": {"y": {"field": "upper", "type": "quantitative", "scale": {"type": "log", "domain": [1, 1000000000000]}, "axis": {"title": "CFE/mL", "titleFontSize": 10.5, "titleFontWeight": "bold", "titleColor": "#111", "titlePadding": 5, "labelFontSize": 10, "labelFontWeight": "bold", "labelColor": "#111", "labelPadding": 2, "values": [1, 10, 100, 1000, 10000, 100000, 1000000, 10000000, 100000000, 1000000000, 10000000000, 100000000000, 1000000000000], "labelExpr": "datum.value == 1 ? '10⁰' : datum.value == 100 ? '10²' : datum.value == 10000 ? '10⁴' : datum.value == 1000000 ? '10⁶' : datum.value == 100000000 ? '10⁸' : datum.value == 10000000000 ? '10¹⁰' : datum.value == 1000000000000 ? '10¹²' : ''", "tickSize": 3, "grid": false, "domainColor": "#333", "tickColor": "#333"}}, "color": {"field": "group", "type": "nominal", "legend": null}}},
                    {"mark": {"type": "text", "baseline": "bottom", "dy": -1, "fontSize": 11, "fontWeight": "bold"}, "encoding": {"y": {"field": "upper", "type": "quantitative", "scale": {"type": "log", "domain": [1, 1000000000000]}, "axis": {"title": "CFE/mL", "titleFontSize": 10.5, "titleFontWeight": "bold", "titleColor": "#111", "titlePadding": 5, "labelFontSize": 10, "labelFontWeight": "bold", "labelColor": "#111", "labelPadding": 2, "values": [1, 10, 100, 1000, 10000, 100000, 1000000, 10000000, 100000000, 1000000000, 10000000000, 100000000000, 1000000000000], "labelExpr": "datum.value == 1 ? '10⁰' : datum.value == 100 ? '10²' : datum.value == 10000 ? '10⁴' : datum.value == 1000000 ? '10⁶' : datum.value == 100000000 ? '10⁸' : datum.value == 10000000000 ? '10¹⁰' : datum.value == 1000000000000 ? '10¹²' : ''", "tickSize": 3, "grid": false, "domainColor": "#333", "tickColor": "#333"}}, "text": {"field": "sig"}}}
                  ]
                },
                {
                  "title": {"text": "A. naeslundii", "fontStyle": "italic"},
                  "width": 213, "height": 145,
                  "data": {"name": "bars"},
                  "transform": [{"filter": "datum.panel == 'B4'"}],
                  "encoding": {"x": {"field": "group", "type": "nominal", "sort": ["Control", "IONPs-CS-MCZ"], "scale": {"paddingInner": 0.337, "paddingOuter": 0.337}, "axis": {"title": null, "labels": false, "tickSize": 4, "domainColor": "#333", "tickColor": "#333", "grid": false}}},
                  "layer": [
                    {"mark": {"type": "bar", "stack": null}, "encoding": {
                      "y": {"field": "mean", "type": "quantitative", "scale": {"type": "log", "domain": [1, 1000000000000]}, "axis": {"title": "CFE/mL", "titleFontSize": 10.5, "titleFontWeight": "bold", "titleColor": "#111", "titlePadding": 5, "labelFontSize": 10, "labelFontWeight": "bold", "labelColor": "#111", "labelPadding": 2, "values": [1, 10, 100, 1000, 10000, 100000, 1000000, 10000000, 100000000, 1000000000, 10000000000, 100000000000, 1000000000000], "labelExpr": "datum.value == 1 ? '10⁰' : datum.value == 100 ? '10²' : datum.value == 10000 ? '10⁴' : datum.value == 1000000 ? '10⁶' : datum.value == 100000000 ? '10⁸' : datum.value == 10000000000 ? '10¹⁰' : datum.value == 1000000000000 ? '10¹²' : ''", "tickSize": 3, "grid": false, "domainColor": "#333", "tickColor": "#333"}},
                      "y2": {"datum": 1},
                      "color": {"field": "group", "type": "nominal", "scale": {"domain": ["Control", "IONPs-CS-MCZ"], "range": ["#000000", "#9d9d9f"]}, "legend": {"orient": "none", "legendX": 224, "legendY": 10, "title": null, "symbolType": "square", "symbolSize": 42, "labelFontSize": 8.5, "labelColor": "#111", "rowPadding": 6, "labelOffset": 5, "symbolStrokeWidth": 0}}}},
                    {"mark": {"type": "rule", "strokeWidth": 1.5}, "encoding": {"y": {"field": "mean", "type": "quantitative", "scale": {"type": "log", "domain": [1, 1000000000000]}, "axis": {"title": "CFE/mL", "titleFontSize": 10.5, "titleFontWeight": "bold", "titleColor": "#111", "titlePadding": 5, "labelFontSize": 10, "labelFontWeight": "bold", "labelColor": "#111", "labelPadding": 2, "values": [1, 10, 100, 1000, 10000, 100000, 1000000, 10000000, 100000000, 1000000000, 10000000000, 100000000000, 1000000000000], "labelExpr": "datum.value == 1 ? '10⁰' : datum.value == 100 ? '10²' : datum.value == 10000 ? '10⁴' : datum.value == 1000000 ? '10⁶' : datum.value == 100000000 ? '10⁸' : datum.value == 10000000000 ? '10¹⁰' : datum.value == 1000000000000 ? '10¹²' : ''", "tickSize": 3, "grid": false, "domainColor": "#333", "tickColor": "#333"}}, "y2": {"field": "upper"}, "color": {"field": "group", "type": "nominal", "legend": null}}},
                    {"mark": {"type": "tick", "thickness": 1.5, "size": 38}, "encoding": {"y": {"field": "upper", "type": "quantitative", "scale": {"type": "log", "domain": [1, 1000000000000]}, "axis": {"title": "CFE/mL", "titleFontSize": 10.5, "titleFontWeight": "bold", "titleColor": "#111", "titlePadding": 5, "labelFontSize": 10, "labelFontWeight": "bold", "labelColor": "#111", "labelPadding": 2, "values": [1, 10, 100, 1000, 10000, 100000, 1000000, 10000000, 100000000, 1000000000, 10000000000, 100000000000, 1000000000000], "labelExpr": "datum.value == 1 ? '10⁰' : datum.value == 100 ? '10²' : datum.value == 10000 ? '10⁴' : datum.value == 1000000 ? '10⁶' : datum.value == 100000000 ? '10⁸' : datum.value == 10000000000 ? '10¹⁰' : datum.value == 1000000000000 ? '10¹²' : ''", "tickSize": 3, "grid": false, "domainColor": "#333", "tickColor": "#333"}}, "color": {"field": "group", "type": "nominal", "legend": null}}},
                    {"mark": {"type": "text", "baseline": "bottom", "dy": -1, "fontSize": 11, "fontWeight": "bold"}, "encoding": {"y": {"field": "upper", "type": "quantitative", "scale": {"type": "log", "domain": [1, 1000000000000]}, "axis": {"title": "CFE/mL", "titleFontSize": 10.5, "titleFontWeight": "bold", "titleColor": "#111", "titlePadding": 5, "labelFontSize": 10, "labelFontWeight": "bold", "labelColor": "#111", "labelPadding": 2, "values": [1, 10, 100, 1000, 10000, 100000, 1000000, 10000000, 100000000, 1000000000, 10000000000, 100000000000, 1000000000000], "labelExpr": "datum.value == 1 ? '10⁰' : datum.value == 100 ? '10²' : datum.value == 10000 ? '10⁴' : datum.value == 1000000 ? '10⁶' : datum.value == 100000000 ? '10⁸' : datum.value == 10000000000 ? '10¹⁰' : datum.value == 1000000000000 ? '10¹²' : ''", "tickSize": 3, "grid": false, "domainColor": "#333", "tickColor": "#333"}}, "text": {"field": "sig"}}}
                  ]
                }
              ],
              "spacing": 22,
              "resolve": {"scale": {"color": "independent"}, "legend": {"color": "independent"}}
            },
            {
              "hconcat": [
                {
                  "title": {"text": "V. dispar", "fontStyle": "italic"},
                  "width": 213, "height": 145,
                  "data": {"name": "bars"},
                  "transform": [{"filter": "datum.panel == 'B5'"}],
                  "encoding": {"x": {"field": "group", "type": "nominal", "sort": ["Control", "IONPs-CS-MCZ"], "scale": {"paddingInner": 0.337, "paddingOuter": 0.337}, "axis": {"title": null, "labels": false, "tickSize": 4, "domainColor": "#333", "tickColor": "#333", "grid": false}}},
                  "layer": [
                    {"mark": {"type": "bar", "stack": null}, "encoding": {
                      "y": {"field": "mean", "type": "quantitative", "scale": {"type": "log", "domain": [1, 1000000000000]}, "axis": {"title": "CFE/mL", "titleFontSize": 10.5, "titleFontWeight": "bold", "titleColor": "#111", "titlePadding": 5, "labelFontSize": 10, "labelFontWeight": "bold", "labelColor": "#111", "labelPadding": 2, "values": [1, 10, 100, 1000, 10000, 100000, 1000000, 10000000, 100000000, 1000000000, 10000000000, 100000000000, 1000000000000], "labelExpr": "datum.value == 1 ? '10⁰' : datum.value == 100 ? '10²' : datum.value == 10000 ? '10⁴' : datum.value == 1000000 ? '10⁶' : datum.value == 100000000 ? '10⁸' : datum.value == 10000000000 ? '10¹⁰' : datum.value == 1000000000000 ? '10¹²' : ''", "tickSize": 3, "grid": false, "domainColor": "#333", "tickColor": "#333"}},
                      "y2": {"datum": 1},
                      "color": {"field": "group", "type": "nominal", "scale": {"domain": ["Control", "IONPs-CS-MCZ"], "range": ["#000000", "#9d9d9f"]}, "legend": {"orient": "none", "legendX": 224, "legendY": 13, "title": null, "symbolType": "square", "symbolSize": 42, "labelFontSize": 8.5, "labelColor": "#111", "rowPadding": 6, "labelOffset": 5, "symbolStrokeWidth": 0}}}},
                    {"mark": {"type": "rule", "strokeWidth": 1.5}, "encoding": {"y": {"field": "mean", "type": "quantitative", "scale": {"type": "log", "domain": [1, 1000000000000]}, "axis": {"title": "CFE/mL", "titleFontSize": 10.5, "titleFontWeight": "bold", "titleColor": "#111", "titlePadding": 5, "labelFontSize": 10, "labelFontWeight": "bold", "labelColor": "#111", "labelPadding": 2, "values": [1, 10, 100, 1000, 10000, 100000, 1000000, 10000000, 100000000, 1000000000, 10000000000, 100000000000, 1000000000000], "labelExpr": "datum.value == 1 ? '10⁰' : datum.value == 100 ? '10²' : datum.value == 10000 ? '10⁴' : datum.value == 1000000 ? '10⁶' : datum.value == 100000000 ? '10⁸' : datum.value == 10000000000 ? '10¹⁰' : datum.value == 1000000000000 ? '10¹²' : ''", "tickSize": 3, "grid": false, "domainColor": "#333", "tickColor": "#333"}}, "y2": {"field": "upper"}, "color": {"field": "group", "type": "nominal", "legend": null}}},
                    {"mark": {"type": "tick", "thickness": 1.5, "size": 38}, "encoding": {"y": {"field": "upper", "type": "quantitative", "scale": {"type": "log", "domain": [1, 1000000000000]}, "axis": {"title": "CFE/mL", "titleFontSize": 10.5, "titleFontWeight": "bold", "titleColor": "#111", "titlePadding": 5, "labelFontSize": 10, "labelFontWeight": "bold", "labelColor": "#111", "labelPadding": 2, "values": [1, 10, 100, 1000, 10000, 100000, 1000000, 10000000, 100000000, 1000000000, 10000000000, 100000000000, 1000000000000], "labelExpr": "datum.value == 1 ? '10⁰' : datum.value == 100 ? '10²' : datum.value == 10000 ? '10⁴' : datum.value == 1000000 ? '10⁶' : datum.value == 100000000 ? '10⁸' : datum.value == 10000000000 ? '10¹⁰' : datum.value == 1000000000000 ? '10¹²' : ''", "tickSize": 3, "grid": false, "domainColor": "#333", "tickColor": "#333"}}, "color": {"field": "group", "type": "nominal", "legend": null}}},
                    {"mark": {"type": "text", "baseline": "bottom", "dy": -1, "fontSize": 11, "fontWeight": "bold"}, "encoding": {"y": {"field": "upper", "type": "quantitative", "scale": {"type": "log", "domain": [1, 1000000000000]}, "axis": {"title": "CFE/mL", "titleFontSize": 10.5, "titleFontWeight": "bold", "titleColor": "#111", "titlePadding": 5, "labelFontSize": 10, "labelFontWeight": "bold", "labelColor": "#111", "labelPadding": 2, "values": [1, 10, 100, 1000, 10000, 100000, 1000000, 10000000, 100000000, 1000000000, 10000000000, 100000000000, 1000000000000], "labelExpr": "datum.value == 1 ? '10⁰' : datum.value == 100 ? '10²' : datum.value == 10000 ? '10⁴' : datum.value == 1000000 ? '10⁶' : datum.value == 100000000 ? '10⁸' : datum.value == 10000000000 ? '10¹⁰' : datum.value == 1000000000000 ? '10¹²' : ''", "tickSize": 3, "grid": false, "domainColor": "#333", "tickColor": "#333"}}, "text": {"field": "sig"}}}
                  ]
                },
                {
                  "title": {"text": "Fusobacterium", "fontStyle": "italic"},
                  "width": 213, "height": 145,
                  "data": {"name": "bars"},
                  "transform": [{"filter": "datum.panel == 'B6'"}],
                  "encoding": {"x": {"field": "group", "type": "nominal", "sort": ["Control", "IONPs-CS-MCZ"], "scale": {"paddingInner": 0.337, "paddingOuter": 0.337}, "axis": {"title": null, "labels": false, "tickSize": 4, "domainColor": "#333", "tickColor": "#333", "grid": false}}},
                  "layer": [
                    {"mark": {"type": "bar", "stack": null}, "encoding": {
                      "y": {"field": "mean", "type": "quantitative", "scale": {"type": "log", "domain": [1, 1000000000000]}, "axis": {"title": "CFE/mL", "titleFontSize": 10.5, "titleFontWeight": "bold", "titleColor": "#111", "titlePadding": 5, "labelFontSize": 10, "labelFontWeight": "bold", "labelColor": "#111", "labelPadding": 2, "values": [1, 10, 100, 1000, 10000, 100000, 1000000, 10000000, 100000000, 1000000000, 10000000000, 100000000000, 1000000000000], "labelExpr": "datum.value == 1 ? '10⁰' : datum.value == 100 ? '10²' : datum.value == 10000 ? '10⁴' : datum.value == 1000000 ? '10⁶' : datum.value == 100000000 ? '10⁸' : datum.value == 10000000000 ? '10¹⁰' : datum.value == 1000000000000 ? '10¹²' : ''", "tickSize": 3, "grid": false, "domainColor": "#333", "tickColor": "#333"}},
                      "y2": {"datum": 1},
                      "color": {"field": "group", "type": "nominal", "scale": {"domain": ["Control", "IONPs-CS-MCZ"], "range": ["#000000", "#9d9d9f"]}, "legend": {"orient": "none", "legendX": 224, "legendY": 17, "title": null, "symbolType": "square", "symbolSize": 42, "labelFontSize": 8.5, "labelColor": "#111", "rowPadding": 6, "labelOffset": 5, "symbolStrokeWidth": 0}}}},
                    {"mark": {"type": "rule", "strokeWidth": 1.5}, "encoding": {"y": {"field": "mean", "type": "quantitative", "scale": {"type": "log", "domain": [1, 1000000000000]}, "axis": {"title": "CFE/mL", "titleFontSize": 10.5, "titleFontWeight": "bold", "titleColor": "#111", "titlePadding": 5, "labelFontSize": 10, "labelFontWeight": "bold", "labelColor": "#111", "labelPadding": 2, "values": [1, 10, 100, 1000, 10000, 100000, 1000000, 10000000, 100000000, 1000000000, 10000000000, 100000000000, 1000000000000], "labelExpr": "datum.value == 1 ? '10⁰' : datum.value == 100 ? '10²' : datum.value == 10000 ? '10⁴' : datum.value == 1000000 ? '10⁶' : datum.value == 100000000 ? '10⁸' : datum.value == 10000000000 ? '10¹⁰' : datum.value == 1000000000000 ? '10¹²' : ''", "tickSize": 3, "grid": false, "domainColor": "#333", "tickColor": "#333"}}, "y2": {"field": "upper"}, "color": {"field": "group", "type": "nominal", "legend": null}}},
                    {"mark": {"type": "tick", "thickness": 1.5, "size": 38}, "encoding": {"y": {"field": "upper", "type": "quantitative", "scale": {"type": "log", "domain": [1, 1000000000000]}, "axis": {"title": "CFE/mL", "titleFontSize": 10.5, "titleFontWeight": "bold", "titleColor": "#111", "titlePadding": 5, "labelFontSize": 10, "labelFontWeight": "bold", "labelColor": "#111", "labelPadding": 2, "values": [1, 10, 100, 1000, 10000, 100000, 1000000, 10000000, 100000000, 1000000000, 10000000000, 100000000000, 1000000000000], "labelExpr": "datum.value == 1 ? '10⁰' : datum.value == 100 ? '10²' : datum.value == 10000 ? '10⁴' : datum.value == 1000000 ? '10⁶' : datum.value == 100000000 ? '10⁸' : datum.value == 10000000000 ? '10¹⁰' : datum.value == 1000000000000 ? '10¹²' : ''", "tickSize": 3, "grid": false, "domainColor": "#333", "tickColor": "#333"}}, "color": {"field": "group", "type": "nominal", "legend": null}}},
                    {"mark": {"type": "text", "baseline": "bottom", "dy": -1, "fontSize": 11, "fontWeight": "bold"}, "encoding": {"y": {"field": "upper", "type": "quantitative", "scale": {"type": "log", "domain": [1, 1000000000000]}, "axis": {"title": "CFE/mL", "titleFontSize": 10.5, "titleFontWeight": "bold", "titleColor": "#111", "titlePadding": 5, "labelFontSize": 10, "labelFontWeight": "bold", "labelColor": "#111", "labelPadding": 2, "values": [1, 10, 100, 1000, 10000, 100000, 1000000, 10000000, 100000000, 1000000000, 10000000000, 100000000000, 1000000000000], "labelExpr": "datum.value == 1 ? '10⁰' : datum.value == 100 ? '10²' : datum.value == 10000 ? '10⁴' : datum.value == 1000000 ? '10⁶' : datum.value == 100000000 ? '10⁸' : datum.value == 10000000000 ? '10¹⁰' : datum.value == 1000000000000 ? '10¹²' : ''", "tickSize": 3, "grid": false, "domainColor": "#333", "tickColor": "#333"}}, "text": {"field": "sig"}}}
                  ]
                }
              ],
              "spacing": 22,
              "resolve": {"scale": {"color": "independent"}, "legend": {"color": "independent"}}
            }
          ],
          "spacing": 113,
          "resolve": {"scale": {"color": "independent"}, "legend": {"color": "independent"}}
        }
      ],
      "spacing": 83,
      "resolve": {"scale": {"color": "independent"}, "legend": {"color": "independent"}}
    }
  ],
  "spacing": 16,
  "resolve": {"scale": {"color": "independent"}, "legend": {"color": "independent"}},
  "config": {
    "view": {"stroke": null},
    "font": "Liberation Sans",
    "title": {"font": "Liberation Sans", "fontSize": 13, "fontWeight": "bold", "color": "#111", "offset": 12},
    "axis": {"labelFont": "Liberation Sans", "titleFont": "Liberation Sans"},
    "legend": {"labelFont": "Liberation Sans"},
    "text": {"font": "Liberation Sans"}
  }
}
